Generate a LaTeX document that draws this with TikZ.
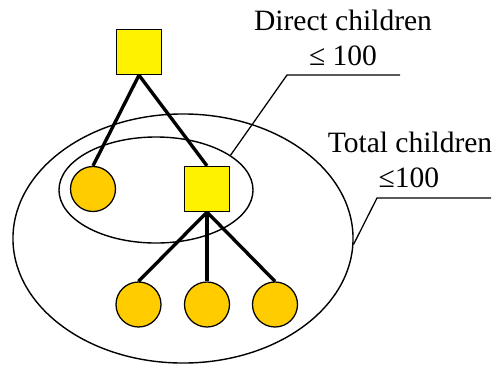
\documentclass[tikz,border=0pt]{standalone}
\usepackage{fontspec}
\setmainfont{Liberation Serif}
\usetikzlibrary{shapes.geometric}
\definecolor{leafgold}{HTML}{FFCC00}
\tikzstyle{inode} = [rectangle, minimum size=1.125cm, inner sep=0pt,
  draw=black, line width=0.9pt, fill=yellow]
\tikzstyle{leaf} = [circle, minimum size=1.125cm, inner sep=0pt,
  draw=black, line width=0.9pt, fill=leafgold]
\tikzstyle{group} = [ellipse, inner sep=0pt, draw=black, line width=1pt]
\tikzstyle{edge} = [line width=2.4pt]
\tikzstyle{leader} = [line width=0.9pt]
\tikzstyle{note} = [anchor=base, inner sep=0pt, font=\fontsize{21}{25}\selectfont]

\begin{document}
\begin{tikzpicture}[x=0.025cm, y=-0.025cm]
\useasboundingbox (0,0) rectangle (496,364);

%% ---- GROUPS ----
\node (outer) [group, minimum width=8.5cm, minimum height=6.225cm] at (183, 238.5) {};
\node (inner) [group, minimum width=4.85cm, minimum height=2.65cm] at (156, 190) {};

%% ---- TREE ----
\node (root) [inode] at (139, 52)  {};
\node (lf_a) [leaf]  at (93, 189)  {};
\node (mid)  [inode] at (207, 189) {};
\node (lf_b) [leaf]  at (138.5, 304.5) {};
\node (lf_c) [leaf]  at (207, 304.5)   {};
\node (lf_d) [leaf]  at (275, 304.5)   {};

\draw[edge] (root.south) -- (lf_a.north);
\draw[edge] (root.south) -- (mid.north);
\draw[edge] (mid.south)  -- (lf_b.north);
\draw[edge] (mid.south)  -- (lf_c.north);
\draw[edge] (mid.south)  -- (lf_d.north);

%% ---- LABELS ----
\node (direct) [note] at (343, 30) {Direct children};
\node (dlimit) [note] at (343, 65) {≤ 100};
\coordinate (d_knee) at (287, 75);
\coordinate (d_end)  at (400, 75);
\draw[leader] (inner.25) -- (d_knee) -- (d_end);

\node (total)  [note] at (410, 152) {Total children};
\node (tlimit) [note] at (409, 187) {≤100};
\coordinate (t_knee) at (377, 198);
\coordinate (t_end)  at (491, 198);
\draw[leader] (outer.358) -- (t_knee) -- (t_end);

\end{tikzpicture}
\end{document}
